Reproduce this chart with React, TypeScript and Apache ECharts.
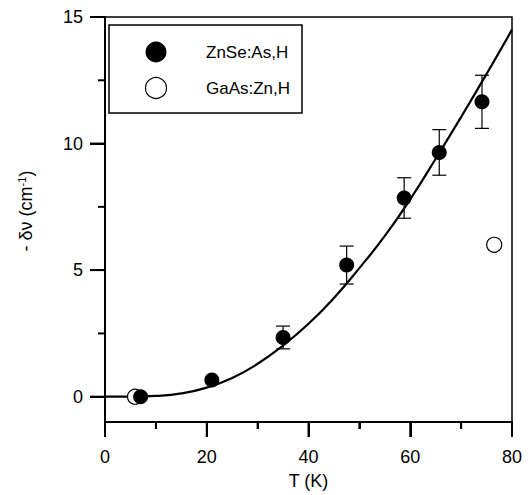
import React, { useEffect, useRef } from "react";
import * as echarts from "echarts";

const fitT = [0, 5, 10, 15, 20, 25, 30, 35, 40, 45, 50, 55, 60, 65, 70, 75, 80];
const fitV = [0, 0, 0.03, 0.13, 0.36, 0.74, 1.3, 2.02, 2.88, 3.9, 5.08, 6.35, 7.8, 9.4, 11.05, 12.75, 14.5];

const znseT = [7, 21, 35, 47.5, 58.8, 65.7, 74.1];
const znseV = [0, 0.66, 2.34, 5.2, 7.85, 9.65, 11.65];
const znseErr = [0, 0, 0.45, 0.75, 0.8, 0.9, 1.05];

const gaasT = [5.9, 76.5];
const gaasV = [0, 6.0];

const xTicks = [0, 20, 40, 60, 80];
const xMinorTicks = [10, 30, 50, 70];
const yTicks = [0, 5, 10, 15];
const yMinorTicks = [2.5, 7.5, 12.5];

const legendNames = ["ZnSe:As,H", "GaAs:Zn,H"];

const FONT = "Liberation Sans, Arial, sans-serif";

export default function App() {
  const ref = useRef<HTMLDivElement>(null);
  useEffect(() => {
    const chart = echarts.init(ref.current!, null, { renderer: "svg" });
    const errData = znseT
      .map((t, i) => [t, znseV[i] - znseErr[i], znseV[i] + znseErr[i]])
      .filter((d, i) => znseErr[i] > 0);
    // tick data: [value, axis (0 = x, 1 = y), length]
    const tickData = [
      ...xTicks.map((v) => [v, 0, 15]),
      ...xMinorTicks.map((v) => [v, 0, 7]),
      ...yTicks.map((v) => [v, 1, 15]),
      ...yMinorTicks.map((v) => [v, 1, 7]),
    ];
    const blk = () => ({ color: "#000", width: 2 });
    chart.setOption({
      animation: false,
      grid: {
        left: 105,
        right: 18,
        top: 17,
        bottom: 68,
        show: true,
        borderColor: "#000",
        borderWidth: 1.5,
      },
      xAxis: {
        type: "value",
        min: xTicks[0],
        max: xTicks[xTicks.length - 1],
        interval: 20,
        name: "T (K)",
        nameLocation: "middle",
        nameGap: 50,
        nameTextStyle: { fontFamily: FONT, fontSize: 18, color: "#000" },
        axisLine: { show: true, onZero: false, lineStyle: blk() },
        axisTick: { show: true, length: 15, lineStyle: blk() },
        minorTick: { show: true, splitNumber: 2, length: 7, lineStyle: blk() },
        axisLabel: { show: true, fontFamily: FONT, fontSize: 18, color: "#000", margin: 26 },
        splitLine: { show: false },
        minorSplitLine: { show: false },
      },
      yAxis: {
        type: "value",
        min: -1,
        max: 15,
        position: "left",
        axisLine: { show: true, onZero: false, lineStyle: blk() },
        axisTick: { show: true, length: 15, customValues: yTicks, lineStyle: blk() },
        axisLabel: { show: true, fontFamily: FONT, fontSize: 18, color: "#000", margin: 22, customValues: yTicks },
        splitLine: { show: false },
      },
      series: [
        {
          type: "custom",
          data: tickData,
          clip: false,
          silent: true,
          z: 20,
          renderItem: (params: any, api: any) => {
            const v = api.value(0);
            const isY = api.value(1) === 1;
            const len = api.value(2);
            const st = { fill: "#000" };
            if (isY) {
              const p = api.coord([0, v]);
              return { type: "rect", shape: { x: p[0] - len, y: p[1] - 1, width: len, height: 2 }, style: st };
            }
            const p = api.coord([v, -1]);
            return { type: "rect", shape: { x: p[0] - 1, y: p[1], width: 2, height: len }, style: st };
          },
        },
        {
          type: "line",
          data: fitT.map((t, i) => [t, fitV[i]]),
          smooth: true,
          showSymbol: false,
          lineStyle: { color: "#000", width: 2.2 },
          z: 2,
        },
        {
          type: "custom",
          data: errData,
          z: 3,
          renderItem: (params: any, api: any) => {
            const x = api.value(0);
            const lo = api.coord([x, api.value(1)]);
            const hi = api.coord([x, api.value(2)]);
            const w = 7;
            const st = { stroke: "#000", lineWidth: 1.2 };
            return {
              type: "group",
              children: [
                { type: "line", shape: { x1: lo[0], y1: lo[1], x2: hi[0], y2: hi[1] }, style: st },
                { type: "line", shape: { x1: lo[0] - w, y1: lo[1], x2: lo[0] + w, y2: lo[1] }, style: st },
                { type: "line", shape: { x1: hi[0] - w, y1: hi[1], x2: hi[0] + w, y2: hi[1] }, style: st },
              ],
            };
          },
        },
        {
          type: "scatter",
          name: legendNames[1],
          data: gaasT.map((t, i) => [t, gaasV[i]]),
          symbol: "circle",
          symbolSize: 15,
          itemStyle: { color: "#fff", borderColor: "#000", borderWidth: 1.2, opacity: 1 },
          z: 4,
        },
        {
          type: "scatter",
          name: legendNames[0],
          data: znseT.map((t, i) => [t, znseV[i]]),
          symbol: "circle",
          symbolSize: 15,
          itemStyle: { color: "#000", opacity: 1 },
          z: 5,
        },
      ],
      graphic: [
        {
          type: "text",
          x: 26,
          y: 211,
          rotation: Math.PI / 2,
          style: {
            text: "- δν (cm{sup|-1})",
            fontFamily: FONT,
            fontSize: 18,
            fill: "#000",
            align: "center",
            verticalAlign: "middle",
            rich: { sup: { fontFamily: FONT, fontSize: 11, fill: "#000", padding: [0, 0, 9, 0] } },
          },
        },
        {
          type: "rect",
          shape: { x: 109, y: 25, width: 193, height: 88 },
          style: { fill: "#fff", stroke: "#000", lineWidth: 1.5 },
          z: 10,
        },
        { type: "circle", shape: { cx: 156, cy: 52, r: 10.5 }, style: { fill: "#000" }, z: 11 },
        { type: "circle", shape: { cx: 156, cy: 88, r: 10.5 }, style: { fill: "#fff", stroke: "#000", lineWidth: 1.2 }, z: 11 },
        {
          type: "text",
          x: 206,
          y: 52,
          style: { text: legendNames[0], fontFamily: FONT, fontSize: 17, fill: "#000", verticalAlign: "middle" },
          z: 11,
        },
        {
          type: "text",
          x: 206,
          y: 88,
          style: { text: legendNames[1], fontFamily: FONT, fontSize: 17, fill: "#000", verticalAlign: "middle" },
          z: 11,
        },
      ],
    });
    return () => chart.dispose();
  }, []);
  return <div ref={ref} style={{ width: 530, height: 495, position: "absolute", left: 0, top: 0 }} />;
}
